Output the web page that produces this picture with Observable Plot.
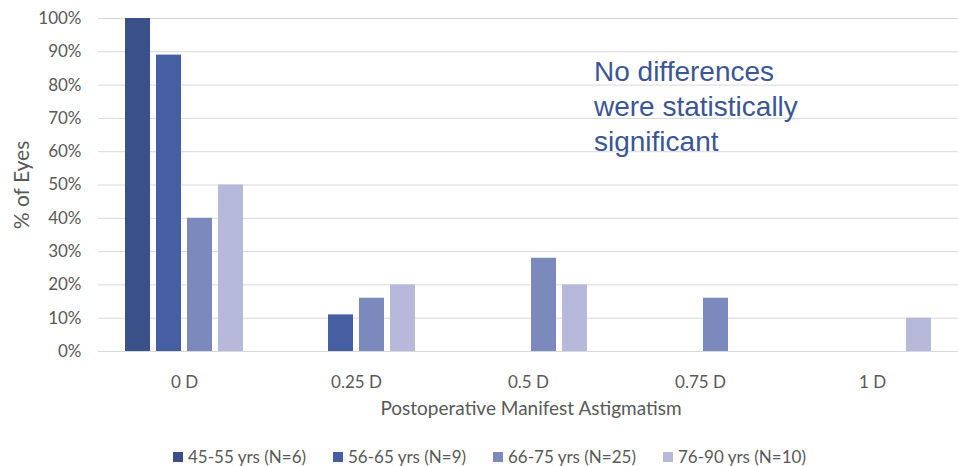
<!DOCTYPE html>
<html>
<head>
<meta charset="utf-8">
<script src="https://cdn.jsdelivr.net/npm/d3@7"></script>
<script src="https://cdn.jsdelivr.net/npm/@observablehq/plot@0.6"></script>
<style>
  body { margin: 0; background: #fff; }
  #wrap { position: relative; width: 958px; height: 466px; font-family: Lato, "Open Sans", sans-serif; color: #595959; }
  #note { position: absolute; left: 594px; top: 54px; font-family: "Liberation Sans", Arial, sans-serif; font-size: 28px; line-height: 35px; color: #3b5695; }
  #ytitle { position: absolute; left: 20px; top: 185px; transform: translate(-50%, -50%) rotate(-90deg); font-size: 21px; white-space: nowrap; }
  #xtitle { position: absolute; left: 531px; top: 407px; transform: translate(-50%, -50%); font-size: 19px; white-space: nowrap; }
  #legend { position: absolute; top: 446px; left: 0; width: 958px; height: 22px; font-size: 17px; }
  .item { position: absolute; display: flex; align-items: center; white-space: nowrap; }
  .sw { width: 10px; height: 10px; margin-right: 5px; }
</style>
</head>
<body>
<div id="wrap">
  <div id="chart"></div>
  <div id="note">No differences<br>were statistically<br>significant</div>
  <div id="ytitle">% of Eyes</div>
  <div id="xtitle">Postoperative Manifest Astigmatism</div>
  <div id="legend"></div>
</div>
<script>
const categories = ["0 D", "0.25 D", "0.5 D", "0.75 D", "1 D"];
const series = ["45-55 yrs (N=6)", "56-65 yrs (N=9)", "66-75 yrs (N=25)", "76-90 yrs (N=10)"];
const colors = ["#3a5089", "#455fa2", "#7b89bd", "#b6b9d9"];
const values45_55 = [100, 0, 0, 0, 0];
const values56_65 = [89, 11, 0, 0, 0];
const values66_75 = [40, 16, 28, 16, 0];
const values76_90 = [50, 20, 20, 0, 10];
const yTicks = [0, 10, 20, 30, 40, 50, 60, 70, 80, 90, 100];
const legendX = [173, 333, 493, 663];

const allValues = [values45_55, values56_65, values66_75, values76_90];
const rows = [];
series.forEach((s, i) => categories.forEach((c, j) => {
  rows.push({category: c, series: s, value: allValues[i][j] / 100});
}));
const bars = rows.filter(d => d.value > 0);

const chart = Plot.plot({
  width: 958,
  height: 430,
  marginLeft: 97,
  marginRight: 0,
  marginTop: 18,
  marginBottom: 79,
  style: {fontFamily: "Lato, 'Open Sans', sans-serif", fontSize: "17px", color: "#595959"},
  fx: {domain: categories, padding: 0},
  x: {domain: series, paddingInner: 0.2, paddingOuter: 0.815, axis: null},
  y: {domain: [0, 1]},
  color: {domain: series, range: colors},
  marks: [
    Plot.ruleY(yTicks.map(d => d / 100), {stroke: "#d9d9d9", strokeWidth: 1}),
    Plot.barY(bars, {fx: "category", x: "series", y: "value", fill: "series"}),
    Plot.axisY({ticks: yTicks.map(d => d / 100), tickFormat: d3.format(".0%"), tickSize: 0, tickPadding: 17,
      label: null, fontSize: 17}),
    Plot.axisFx({anchor: "bottom", tickSize: 0, tickPadding: 24, label: null, fontSize: 17})
  ]
});
document.getElementById("chart").appendChild(chart);

const legend = document.getElementById("legend");
series.forEach((s, i) => {
  const item = document.createElement("div");
  item.className = "item";
  item.style.left = legendX[i] + "px";
  item.innerHTML = `<span class="sw" style="background:${colors[i]}"></span><span>${s}</span>`;
  legend.appendChild(item);
});
</script>
</body>
</html>
